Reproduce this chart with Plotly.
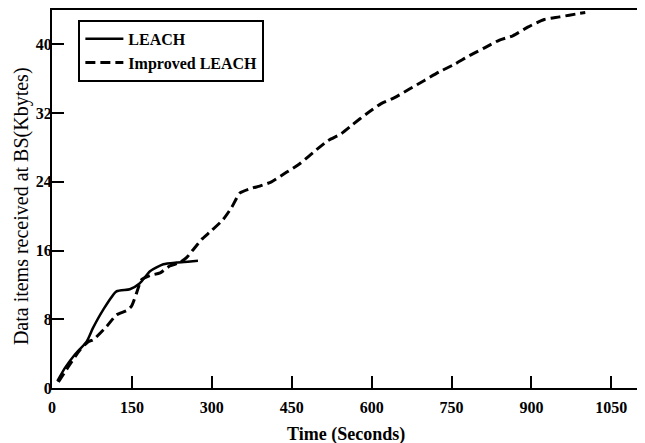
import plotly.graph_objects as go

# LEACH (solid)
leach_time = [10, 25, 43, 65, 77, 96, 121, 146, 165, 184, 209, 234, 255, 274]
leach_data = [0.8, 2.4, 3.9, 5.4, 7.0, 9.1, 11.25, 11.5, 12.2, 13.6, 14.4, 14.6, 14.7, 14.8]

# Improved LEACH (dashed)
imp_time = [12, 31, 52, 68, 77, 103, 121, 140, 149, 159, 168, 184, 203, 221, 240, 253, 265,
            281, 299, 321, 337, 353, 377, 390, 412, 440, 465, 490, 518, 543, 565, 590, 618,
            643, 671, 699, 727, 756, 784, 812, 840, 865, 893, 924, 953, 990, 1001]
imp_data = [0.7, 2.5, 4.4, 5.4, 5.6, 7.2, 8.5, 9.0, 9.5, 11.1, 12.6, 13.1, 13.4, 14.2, 14.6, 15.2, 16.1,
            17.3, 18.3, 19.6, 21.0, 22.7, 23.3, 23.5, 24.0, 25.1, 26.1, 27.4, 28.8, 29.6, 30.7, 31.9, 33.1,
            33.8, 34.8, 35.8, 36.8, 37.7, 38.7, 39.6, 40.5, 41.0, 42.0, 42.9, 43.2, 43.6, 43.7]

x_ticks = [0, 150, 300, 450, 600, 750, 900, 1050]
y_ticks = [0, 8, 16, 24, 32, 40]

FONT = "Liberation Serif"

fig = go.Figure()
fig.add_trace(go.Scatter(x=leach_time, y=leach_data, mode="lines", name="LEACH",
                         line=dict(color="black", width=2.5, shape="spline", smoothing=0.6)))
fig.add_trace(go.Scatter(x=imp_time, y=imp_data, mode="lines", name="Improved LEACH",
                         line=dict(color="black", width=3, dash="10px,5px", shape="spline", smoothing=0.6)))

axis_common = dict(showgrid=False, zeroline=False, showline=True, linecolor="black", linewidth=2,
                   mirror=True, ticks="inside", tickwidth=2, tickcolor="black", ticklen=12,
                   automargin=False,
                   tickfont=dict(family=FONT, size=16, color="black", weight="bold"))

# the page body has an 8px margin, so the figure is sized/offset to fit the 645x443 window
fig.update_layout(
    width=637, height=435,
    margin=dict(l=44, r=7, t=2, b=55),
    paper_bgcolor="white", plot_bgcolor="white",
    xaxis=dict(range=[0, 1100], tickvals=x_ticks, ticklabelstandoff=4, **axis_common),
    yaxis=dict(range=[0, 44], tickvals=y_ticks, ticklabelstandoff=-5, **axis_common),
    legend=dict(x=0.045, y=0.974, xanchor="left", yanchor="top", itemwidth=38,
                bordercolor="black", borderwidth=2, bgcolor="white",
                font=dict(family=FONT, size=16, color="black", weight="bold")),
    showlegend=True,
    annotations=[
        dict(text="Time (Seconds)", xref="paper", yref="paper", x=0.502, y=-0.124,
             xanchor="center", yanchor="middle", showarrow=False,
             font=dict(family=FONT, size=18, color="black", weight="bold")),
        dict(text="Data items received at BS(Kbytes)", xref="paper", yref="paper", x=-0.053, y=0.481,
             xanchor="center", yanchor="middle", showarrow=False, textangle=-90,
             font=dict(family=FONT, size=20, color="black")),
    ],
)

fig.write_html("out.html")
